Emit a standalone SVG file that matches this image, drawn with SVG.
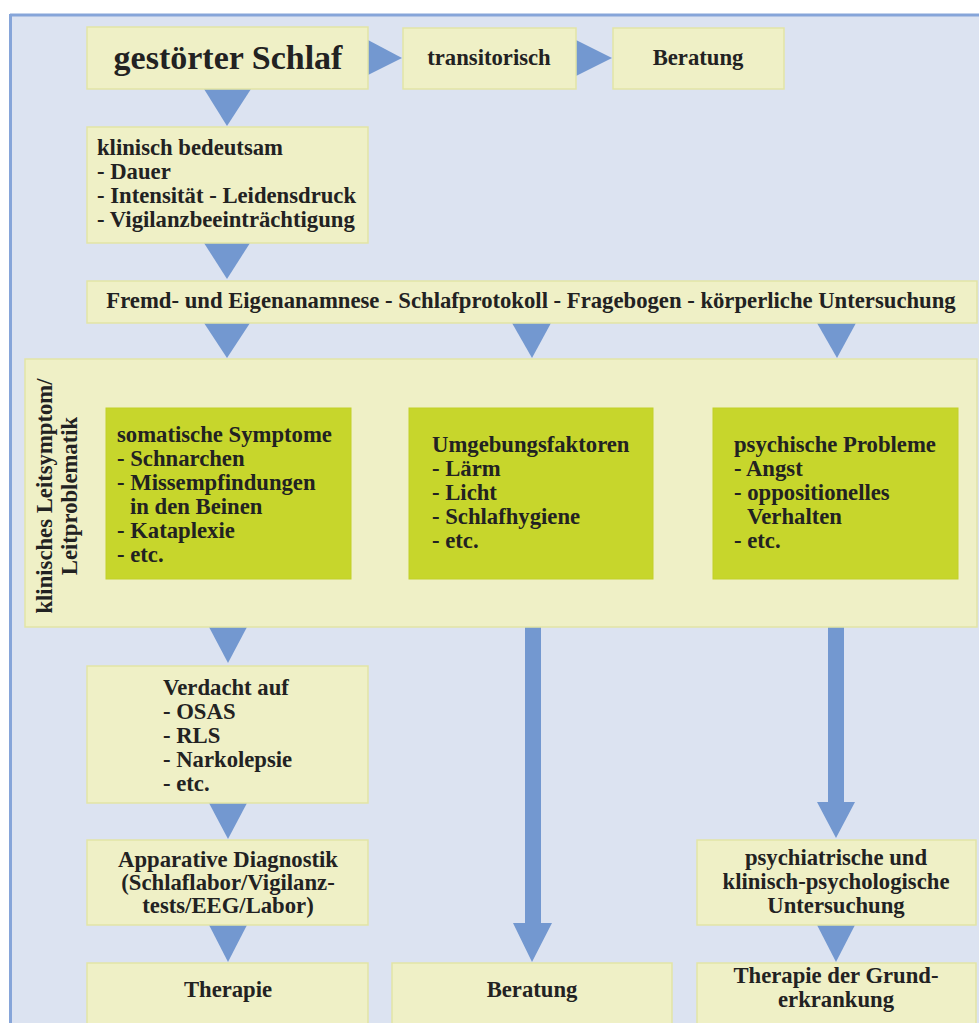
<svg xmlns="http://www.w3.org/2000/svg" width="979" height="1023" viewBox="0 0 979 1023">
<style>
.box{fill:#eff0c6;stroke:#e2e5a6;stroke-width:1.5}
.green{fill:#c7d62c;stroke:#c2d028;stroke-width:1}
.arr{fill:#7398d0}
text{font-family:"Liberation Serif","Times New Roman",serif;font-weight:bold;font-size:22.7px;fill:#222}
.c{text-anchor:middle}
.title{font-size:34px}
</style>
<rect x="0" y="0" width="979" height="1023" fill="#ffffff"/>
<rect x="10" y="14" width="975" height="1015" fill="#dce3f1"/>
<line x1="10" y1="15" x2="979" y2="15" stroke="#86a5d9" stroke-width="3"/>
<line x1="10.5" y1="14" x2="10.5" y2="1023" stroke="#86a5d9" stroke-width="3"/>

<g id="connectors">
<polygon class="arr" points="368,40 368,75 402,58"/>
<polygon class="arr" points="576,40 576,76 612,58"/>
<polygon class="arr" points="204,89 251,89 227,126"/>
<polygon class="arr" points="204,243 250,243 227,279"/>
<polygon class="arr" points="204,323 250,323 227,358"/>
<polygon class="arr" points="512,323 551,323 532,358"/>
<polygon class="arr" points="817,323 856,323 837,358"/>
<polygon class="arr" points="209,627 247,627 228,663"/>
<polygon class="arr" points="209,803 247,803 228,839"/>
<polygon class="arr" points="209,925 247,925 228,962"/>
<polygon class="arr" points="525,627 541,627 541,923 552,923 532,962 513,923 525,923"/>
<polygon class="arr" points="828,627 844,627 844,802 855,802 836,838 817,802 828,802"/>
<polygon class="arr" points="817,925 855,925 836,962"/>
</g>

<g id="n-gestoerter">
<rect class="box" x="87" y="27" width="281" height="62"/>
<text class="c title" x="228" y="69">gestörter Schlaf</text>
</g>
<g id="n-transitorisch">
<rect class="box" x="403" y="28" width="173" height="61"/>
<text class="c" x="489" y="65">transitorisch</text>
</g>
<g id="n-beratung-top">
<rect class="box" x="613" y="28" width="171" height="61"/>
<text class="c" x="698" y="65">Beratung</text>
</g>
<g id="n-klinisch">
<rect class="box" x="87" y="127" width="281" height="116"/>
<text x="97" y="155">klinisch bedeutsam</text>
<text x="97" y="179">- Dauer</text>
<text x="97" y="203">- Intensität - Leidensdruck</text>
<text x="97" y="227">- Vigilanzbeeinträchtigung</text>
</g>
<g id="n-anamnese">
<rect class="box" x="87" y="281" width="890" height="42"/>
<text class="c" x="531" y="308">Fremd- und Eigenanamnese - Schlafprotokoll - Fragebogen - körperliche Untersuchung</text>
</g>
<g id="n-leitsymptom">
<rect class="box" x="25" y="359" width="952" height="268"/>
<g transform="translate(52,496) rotate(-90)">
<text class="c" x="0" y="0">klinisches Leitsymptom/</text>
<text class="c" x="0" y="25">Leitproblematik</text>
</g>
</g>
<g id="n-somatisch">
<rect class="green" x="106" y="408" width="245" height="171"/>
<text x="117" y="442">somatische Symptome</text>
<text x="117" y="466">- Schnarchen</text>
<text x="117" y="490">- Missempfindungen</text>
<text x="130" y="514">in den Beinen</text>
<text x="117" y="538">- Kataplexie</text>
<text x="117" y="562">- etc.</text>
</g>
<g id="n-umgebung">
<rect class="green" x="409" y="408" width="244" height="171"/>
<text x="432" y="452">Umgebungsfaktoren</text>
<text x="432" y="476">- Lärm</text>
<text x="432" y="500">- Licht</text>
<text x="432" y="524">- Schlafhygiene</text>
<text x="432" y="548">- etc.</text>
</g>
<g id="n-psychisch">
<rect class="green" x="713" y="408" width="245" height="171"/>
<text x="734" y="452">psychische Probleme</text>
<text x="734" y="476">- Angst</text>
<text x="734" y="500">- oppositionelles</text>
<text x="747" y="524">Verhalten</text>
<text x="734" y="548">- etc.</text>
</g>
<g id="n-verdacht">
<rect class="box" x="87" y="666" width="281" height="137"/>
<text x="163" y="695">Verdacht auf</text>
<text x="163" y="719">- OSAS</text>
<text x="163" y="743">- RLS</text>
<text x="163" y="767">- Narkolepsie</text>
<text x="163" y="791">- etc.</text>
</g>
<g id="n-apparativ">
<rect class="box" x="87" y="840" width="281" height="85"/>
<text class="c" x="228" y="867">Apparative Diagnostik</text>
<text class="c" x="228" y="890">(Schlaflabor/Vigilanz-</text>
<text class="c" x="228" y="913">tests/EEG/Labor)</text>
</g>
<g id="n-therapie">
<rect class="box" x="87" y="963" width="281" height="70"/>
<text class="c" x="228" y="997">Therapie</text>
</g>
<g id="n-beratung-bottom">
<rect class="box" x="392" y="963" width="280" height="70"/>
<text class="c" x="532" y="997">Beratung</text>
</g>
<g id="n-psychiatrisch">
<rect class="box" x="697" y="840" width="279" height="85"/>
<text class="c" x="836" y="865">psychiatrische und</text>
<text class="c" x="836" y="889">klinisch-psychologische</text>
<text class="c" x="836" y="913">Untersuchung</text>
</g>
<g id="n-therapie-grund">
<rect class="box" x="697" y="963" width="279" height="70"/>
<text class="c" x="836" y="983">Therapie der Grund-</text>
<text class="c" x="836" y="1007">erkrankung</text>
</g>
</svg>
